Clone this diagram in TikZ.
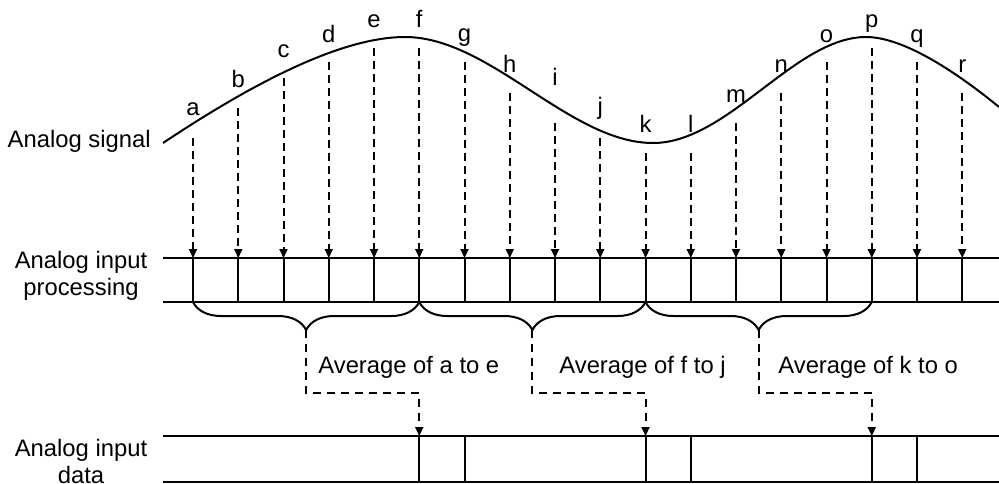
\documentclass[tikz,border=0pt]{standalone}
\usepackage{fontspec}
\setmainfont{Liberation Sans}
\usetikzlibrary{arrows.meta,calc,decorations.pathreplacing}

\begin{document}
\begin{tikzpicture}[
    x=0.5pt,y=-0.5pt,
    every node/.style={font=\fontsize{11.9}{13.5}\selectfont,inner sep=0pt},
    signal/.style={line width=1pt},
    rail/.style={line width=1pt},
    tick/.style={line width=1pt},
    sample/.style={-{Triangle[length=4.5pt,width=4pt]},line width=1pt,dash pattern=on 4pt off 2.5pt},
    avgline/.style={-{Triangle[length=4.5pt,width=4pt]},line width=1pt,dash pattern=on 4pt off 3pt},
    grp/.style={line width=1pt,decorate,decoration={brace,mirror,amplitude=14pt}},
    lab/.style={anchor=base}
  ]
    \useasboundingbox (0,0) rectangle (999,483);

    % signal
    \draw[signal] (163,143) .. controls (250,85) and (340,37) .. (405,37)
      .. controls (490,37) and (570,143) .. (653,143)
      .. controls (728,143) and (795,37) .. (866,37)
      .. controls (905,37) and (960,75) .. (999,107);
    \node[anchor=base east] (sig) at (151,147) {Analog signal};

    % rails
    \coordinate (r1w) at (163,258); \coordinate (r1e) at (999,258);
    \coordinate (r2w) at (163,302); \coordinate (r2e) at (999,302);
    \coordinate (r3w) at (163,436); \coordinate (r3e) at (999,436);
    \coordinate (r4w) at (163,482); \coordinate (r4e) at (999,482);
    \draw[rail] (r1w) -- (r1e);
    \draw[rail] (r2w) -- (r2e);
    \draw[rail] (r3w) -- (r3e);
    \draw[rail] (r4w) -- (r4e);
    \node[align=center] (proc) at (81,276) {Analog input\\processing};
    \node[align=center] (data) at (81,461) {Analog input\\data};

    % samples
    \foreach \smp/\ys/\yb [count=\i from 0] in {a/138/115,b/108/87,c/78/57,d/62/42,e/48/27,f/48/27,
        g/62/41,h/93/72,i/123/85,j/138/114,k/153/132,l/153/132,m/123/102,n/93/72,o/62/42,
        p/48/27,q/62/42,r/93/72}{
      \coordinate (s\smp) at (193+45.25*\i,\ys);
      \coordinate (t\smp) at (193+45.25*\i,258);
      \coordinate (u\smp) at (193+45.25*\i,302);
      \node[lab] (n\smp) at (193+45.25*\i,\yb) {\smp};
      \draw[sample] (s\smp) -- (t\smp);
      \draw[tick] (t\smp) -- (u\smp);
    }

    % averaging
    \foreach \g/\sa/\sb/\sc in {1/a/f/g,2/f/k/l,3/k/p/q}{
      \coordinate (tip\g) at ($(u\sa)!0.5!(u\sb)+(0,28)$);
      \coordinate (bend\g) at ($(u\sb)+(0,91)$);
      \coordinate (in\g) at ($(u\sb)+(0,134)$);
      \coordinate (in\g b) at ($(u\sb)+(0,180)$);
      \coordinate (out\g) at ($(u\sc)+(0,134)$);
      \coordinate (out\g b) at ($(u\sc)+(0,180)$);
      \draw[grp] (u\sa) -- (u\sb);
      \draw[avgline] (tip\g) |- (bend\g) -- (in\g);
      \draw[tick] (in\g) -- (in\g b);
      \draw[tick] (out\g) -- (out\g b);
    }
    \node[anchor=base west] (avg1) at (318,373) {Average of a to e};
    \node[anchor=base west] (avg2) at (559,373) {Average of f to j};
    \node[anchor=base west] (avg3) at (778,373) {Average of k to o};
\end{tikzpicture}
\end{document}
